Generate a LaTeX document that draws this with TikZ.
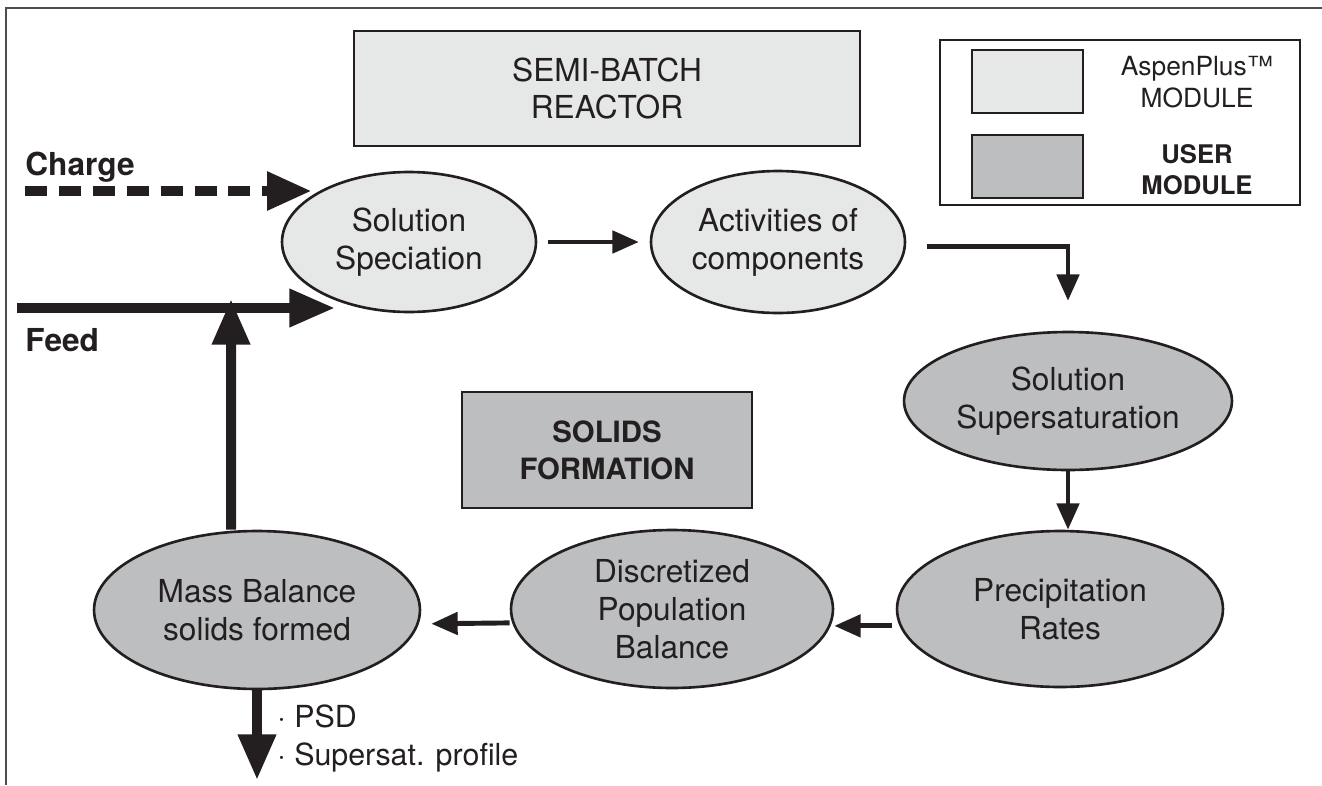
\documentclass[tikz,border=0pt]{standalone}
\usepackage{fontspec}
\setmainfont{TeX Gyre Heros}
\usetikzlibrary{shapes.geometric,arrows.meta}
\definecolor{aspengray}{HTML}{E6E7E7}
\definecolor{usergray}{HTML}{BCBEC0}
\definecolor{inkline}{HTML}{231F20}
\tikzstyle{aspen box}=[rectangle, draw=inkline, line width=1.6pt, fill=aspengray, inner sep=0pt]
\tikzstyle{user box}=[rectangle, draw=inkline, line width=1.6pt, fill=usergray, inner sep=0pt]
\tikzstyle{module}=[ellipse, draw=inkline, line width=1.5pt, inner sep=0pt, align=center, text=inkline, font=\fontsize{18}{21.5}\selectfont]
\tikzstyle{thin flow}=[draw=inkline, line width=2.8pt, -{Triangle[length=15pt,width=12.5pt]}]
\tikzstyle{thick flow}=[draw=inkline, line width=5.7pt, -{Triangle[length=26pt,width=20.5pt]}]
\tikzstyle{stream label}=[anchor=base west, inner sep=0pt, text=inkline, font=\fontsize{18}{21}\selectfont\bfseries]
\tikzstyle{result label}=[anchor=base west, inner sep=0pt, text=inkline, font=\fontsize{17.3}{21}\selectfont]

\begin{document}
\begin{tikzpicture}[x=0.02cm, y=-0.02cm]
    \useasboundingbox (0,0) rectangle (1322,785);
    % frame
    \draw[draw=inkline!80, line width=1pt] (6,785) -- (6,8) -- (1322,8);
    % titles and legend
    \node[aspen box, minimum width=10.12cm, minimum height=2.3cm, align=center, font=\fontsize{18}{21.5}\selectfont, text=inkline] (reactor) at (607,88.5) {SEMI-BATCH\\REACTOR};
    \node[user box, minimum width=5.8cm, minimum height=2.32cm, align=center, font=\fontsize{16.7}{21}\selectfont\bfseries, text=inkline] (solids) at (607,450) {SOLIDS\\FORMATION};
    \node[draw=inkline, line width=1.2pt, minimum width=7.2cm, minimum height=3.3cm, inner sep=0pt] (legend) at (1120,122.5) {};
    \node[aspen box, minimum width=2.22cm, minimum height=1.26cm] (aspenkey) at (1027.5,81.5) {};
    \node[user box, minimum width=2.22cm, minimum height=1.26cm] (userkey) at (1027.5,166.5) {};
    \node[align=center, text=inkline, font=\fontsize{15}{18.5}\selectfont] (aspentext) at (1197,82) {AspenPlus™\\MODULE};
    \node[align=center, text=inkline, font=\fontsize{14.6}{17.5}\selectfont\bfseries] (usertext) at (1197,170) {USER\\MODULE};
    % modules
    \node[module, fill=aspengray, minimum width=5.08cm, minimum height=2.8cm] (spec) at (409,242) {Solution\\Speciation};
    \node[module, fill=aspengray, minimum width=5.08cm, minimum height=2.84cm] (act) at (778,242) {Activities of\\components};
    \node[module, fill=usergray, minimum width=6.56cm, minimum height=2.76cm] (sup) at (1068,401) {Solution\\Supersaturation};
    \node[module, fill=usergray, minimum width=6.52cm, minimum height=3.12cm] (prec) at (1060,609) {Precipitation\\Rates};
    \node[module, fill=usergray, minimum width=6.44cm, minimum height=3.16cm] (disc) at (672,609) {Discretized\\Population\\Balance};
    \node[module, fill=usergray, minimum width=6.52cm, minimum height=3.16cm] (mass) at (257,610) {Mass Balance\\solids formed};
    % streams
    \node[stream label] (charge) at (25,175) {Charge};
    \node[stream label] (feed) at (25,351) {Feed};
    \node[result label] (psd) at (277,727) {· PSD};
    \node[result label] (profile) at (277,765) {· Supersat. profile};
    \coordinate (chargein) at (25,191);
    \coordinate (chargetip) at (312,191);
    \coordinate (feedin) at (17,308);
    \coordinate (feedtip) at (335,308);
    \coordinate (joint) at (231,299);
    \coordinate (outtip) at (257,780);
    \draw[draw=inkline, line width=6.2pt, dash pattern=on 12.5pt off 6.8pt, -{Triangle[length=25.5pt,width=20.5pt]}] (chargein) -- (chargetip);
    \draw[thick flow] (feedin) -- (feedtip);
    \draw[thick flow] ([xshift=-14.7pt]mass.north) -- (joint);
    \draw[thick flow] (mass.south) -- (outtip);
    \draw[thin flow, shorten <=6.2pt, shorten >=6.2pt] (spec) -- (act);
    \draw[thin flow, shorten >=17pt] ([xshift=12pt,yshift=-2.3pt]act.east) -| (sup.north);
    \draw[thin flow] (sup.south) -- (sup.south |- prec.north);
    \draw[thin flow, shorten <=2pt] ([yshift=-9.6pt]prec.west) -- ([yshift=-9.6pt]disc.east);
    \draw[thin flow, shorten >=5.7pt] ([yshift=-7.9pt]disc.west) -- ([yshift=-7.9pt]mass.east);
\end{tikzpicture}
\end{document}
